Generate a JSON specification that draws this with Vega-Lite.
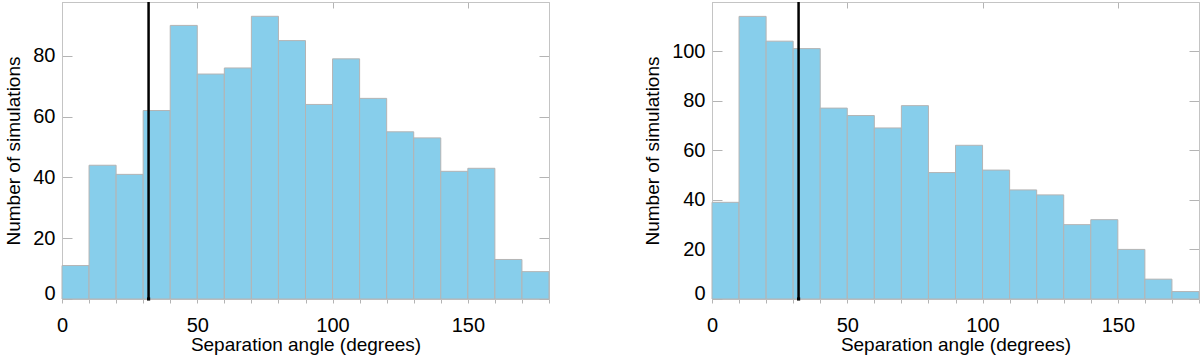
{
  "$schema": "https://vega.github.io/schema/vega-lite/v6.json",
  "padding": {"left": 4, "top": 0, "right": 1, "bottom": 0},
  "background": "white",
  "spacing": 163,
  "bounds": "flush",
  "datasets": {
    "left": [
      {"start": 0, "end": 10, "count": 11},
      {"start": 10, "end": 20, "count": 44},
      {"start": 20, "end": 30, "count": 41},
      {"start": 30, "end": 40, "count": 62},
      {"start": 40, "end": 50, "count": 90},
      {"start": 50, "end": 60, "count": 74},
      {"start": 60, "end": 70, "count": 76},
      {"start": 70, "end": 80, "count": 93},
      {"start": 80, "end": 90, "count": 85},
      {"start": 90, "end": 100, "count": 64},
      {"start": 100, "end": 110, "count": 79},
      {"start": 110, "end": 120, "count": 66},
      {"start": 120, "end": 130, "count": 55},
      {"start": 130, "end": 140, "count": 53},
      {"start": 140, "end": 150, "count": 42},
      {"start": 150, "end": 160, "count": 43},
      {"start": 160, "end": 170, "count": 13},
      {"start": 170, "end": 180, "count": 9}
    ],
    "right": [
      {"start": 0, "end": 10, "count": 39},
      {"start": 10, "end": 20, "count": 114},
      {"start": 20, "end": 30, "count": 104},
      {"start": 30, "end": 40, "count": 101},
      {"start": 40, "end": 50, "count": 77},
      {"start": 50, "end": 60, "count": 74},
      {"start": 60, "end": 70, "count": 69},
      {"start": 70, "end": 80, "count": 78},
      {"start": 80, "end": 90, "count": 51},
      {"start": 90, "end": 100, "count": 62},
      {"start": 100, "end": 110, "count": 52},
      {"start": 110, "end": 120, "count": 44},
      {"start": 120, "end": 130, "count": 42},
      {"start": 130, "end": 140, "count": 30},
      {"start": 140, "end": 150, "count": 32},
      {"start": 150, "end": 160, "count": 20},
      {"start": 160, "end": 170, "count": 8},
      {"start": 170, "end": 180, "count": 3}
    ],
    "line": [{"angle": 32, "base": 0}]
  },
  "config": {
    "font": "Liberation Sans",
    "view": {"stroke": "#c4c4c4", "strokeWidth": 1},
    "axis": {
      "domainColor": "#c4c4c4",
      "tickColor": "#b4b4b4",
      "grid": false,
      "labelFont": "Liberation Sans",
      "titleFont": "Liberation Sans",
      "labelFontSize": 20,
      "titleFontSize": 19,
      "labelColor": "black",
      "titleColor": "black",
      "titleFontWeight": "normal"
    }
  },
  "hconcat": [
    {
      "width": 487,
      "height": 297,
      "resolve": {"axis": {"x": "independent", "y": "independent"}},
      "layer": [
        {
          "data": {"name": "left"},
          "mark": {"type": "bar", "fill": "#87ceeb", "stroke": "#b4b4b4", "strokeWidth": 1},
          "encoding": {
            "x": {"field": "start", "type": "quantitative", "scale": {"domain": [0, 180], "nice": false},
              "axis": {"orient": "bottom", "title": "Separation angle (degrees)", "values": [0,10,20,30,40,50,60,70,80,90,100,110,120,130,140,150,160,170,180],
                "labelExpr": "datum.value % 50 == 0 ? datum.label : ''", "tickSize": 4, "labelPadding": 12, "titlePadding": 0, "labelFlush": false}},
            "x2": {"field": "end"},
            "y": {"field": "count", "type": "quantitative", "scale": {"domain": [0, 97.7], "nice": false},
              "axis": {"orient": "left", "title": "Number of simulations", "values": [0, 20, 40, 60, 80], "tickSize": -10, "labelPadding": 17, "titlePadding": 9, "labelFlush": true, "labelFlushOffset": 4}},
            "y2": {"datum": 0}
          }
        },
        {
          "data": {"name": "line"},
          "mark": {"type": "rule", "color": "black", "strokeWidth": 2.5},
          "encoding": {
            "x": {"field": "angle", "type": "quantitative",
              "axis": {"orient": "top", "title": null, "values": [0, 50, 100, 150], "labels": false, "tickSize": -6}}
          }
        },
        {
          "data": {"name": "line"},
          "mark": {"type": "point", "shape": "square", "filled": true, "color": "black", "size": 10, "opacity": 1},
          "encoding": {
            "x": {"field": "angle", "type": "quantitative", "axis": null},
            "y": {"field": "base", "type": "quantitative",
              "axis": {"orient": "right", "title": null, "values": [0, 20, 40, 60, 80], "labels": false, "tickSize": -10}}
          }
        }
      ]
    },
    {
      "width": 487,
      "height": 297,
      "resolve": {"axis": {"x": "independent", "y": "independent"}},
      "layer": [
        {
          "data": {"name": "right"},
          "mark": {"type": "bar", "fill": "#87ceeb", "stroke": "#b4b4b4", "strokeWidth": 1},
          "encoding": {
            "x": {"field": "start", "type": "quantitative", "scale": {"domain": [0, 180], "nice": false},
              "axis": {"orient": "bottom", "title": "Separation angle (degrees)", "values": [0,10,20,30,40,50,60,70,80,90,100,110,120,130,140,150,160,170,180],
                "labelExpr": "datum.value % 50 == 0 ? datum.label : ''", "tickSize": 4, "labelPadding": 12, "titlePadding": 0, "labelFlush": false}},
            "x2": {"field": "end"},
            "y": {"field": "count", "type": "quantitative", "scale": {"domain": [0, 119.8], "nice": false},
              "axis": {"orient": "left", "title": "Number of simulations", "values": [0, 20, 40, 60, 80, 100], "tickSize": -10, "labelPadding": 17, "titlePadding": 9, "labelFlush": true, "labelFlushOffset": 4}},
            "y2": {"datum": 0}
          }
        },
        {
          "data": {"name": "line"},
          "mark": {"type": "rule", "color": "black", "strokeWidth": 2.5},
          "encoding": {
            "x": {"field": "angle", "type": "quantitative",
              "axis": {"orient": "top", "title": null, "values": [0, 50, 100, 150], "labels": false, "tickSize": -6}}
          }
        },
        {
          "data": {"name": "line"},
          "mark": {"type": "point", "shape": "square", "filled": true, "color": "black", "size": 10, "opacity": 1},
          "encoding": {
            "x": {"field": "angle", "type": "quantitative", "axis": null},
            "y": {"field": "base", "type": "quantitative",
              "axis": {"orient": "right", "title": null, "values": [0, 20, 40, 60, 80, 100], "labels": false, "tickSize": -10}}
          }
        }
      ]
    }
  ]
}
